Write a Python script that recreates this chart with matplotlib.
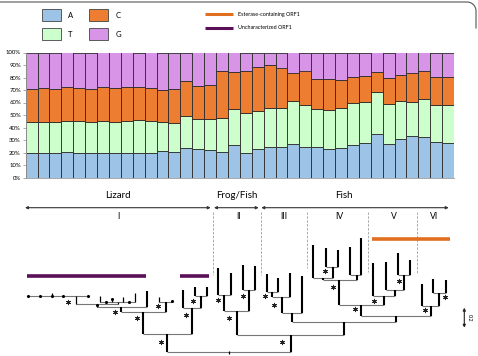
import numpy as np
import matplotlib
matplotlib.use("Agg")
import matplotlib.pyplot as plt
from matplotlib.patches import Rectangle

plt.rcParams['font.family'] = ['Lato', 'DejaVu Sans']

# base composition per sequence (%)
a_pct = [20.0, 19.5, 19.5, 20.3, 20.0, 19.8, 19.8, 19.3, 19.8, 20.0, 19.8, 21.4,
         20.3, 23.5, 22.7, 21.9, 20.3, 26.2, 19.8, 22.7, 24.6, 24.6, 26.5, 24.1,
         24.6, 22.7, 23.3, 25.7, 27.3, 34.5, 26.5, 31.0, 32.9, 32.6, 28.1, 27.3]
t_pct = [24.7, 25.2, 24.9, 24.9, 24.9, 24.6, 25.1, 25.1, 25.1, 26.0, 25.1, 23.3,
         23.3, 25.4, 24.4, 24.6, 27.0, 28.6, 31.5, 30.2, 31.3, 31.3, 34.5, 33.7,
         30.2, 31.0, 32.0, 33.9, 33.1, 33.7, 32.3, 30.5, 27.5, 30.0, 29.7, 30.5]
c_pct = [26.4, 27.0, 26.7, 27.0, 27.0, 26.2, 27.3, 27.0, 27.3, 26.5, 26.5, 25.4,
         27.0, 28.4, 26.2, 27.6, 38.0, 29.7, 33.7, 35.3, 33.9, 32.1, 23.0, 27.8,
         23.8, 24.9, 22.8, 20.6, 20.9, 16.0, 20.6, 20.6, 23.6, 22.4, 22.9, 22.9]
g_pct = [28.9, 28.3, 28.9, 27.8, 28.1, 29.4, 27.8, 28.6, 27.8, 27.5, 28.6, 29.9,
         29.4, 22.7, 26.7, 25.9, 14.7, 15.5, 15.0, 11.8, 10.2, 12.0, 16.0, 14.4,
         21.4, 21.4, 21.9, 19.8, 18.7, 15.8, 20.6, 17.9, 16.0, 15.0, 19.3, 19.3]
bases = ['A', 'T', 'C', 'G']
base_colors = {'A': '#9dc3e6', 'T': '#ccffcc', 'C': '#ed7d31', 'G': '#d894e6'}

clades = ['Lizard', 'Frog/Fish', 'Fish']
groups = ['I', 'II', 'III', 'IV', 'V', 'VI']
orf_labels = ['Esterase-containing ORF1', 'Uncharacterized ORF1']
orf_colors = ['#e0701f', '#5a0f58']

# tree drawn as a cladogram in picture pixels: vertical branches (x, y_low, y_high)
tree_v = [(166.7, 334.3, 352.3), (291, 335, 352.3), (191.7, 308.3, 334.3),
          (182.7, 290, 308.3), (201, 295.7, 308.3), (195, 286.7, 295.7), (206.7, 286.7, 295.7),
          (143.3, 311.7, 334.3), (165.7, 301.7, 311.7), (121, 307, 311.7), (146.7, 291, 307),
          (236.7, 311, 335), (224, 295, 311), (218.3, 268.3, 295), (230.7, 272.7, 295),
          (249.3, 290, 311), (242.7, 265, 290), (255, 266, 290),
          (344.3, 322.3, 335), (292.5, 313.3, 322.3), (302.3, 275.7, 313.3), (281.7, 296.7, 313.3),
          (290, 273.3, 296.7), (272.3, 291.7, 296.7), (266.7, 274.3, 291.7), (278.3, 277.7, 291.7),
          (396.3, 316, 322.3), (361.5, 305, 316), (339.5, 280, 305), (323.3, 278.3, 280),
          (313.3, 245, 278.3), (332.7, 267.3, 278.3), (326, 248.3, 267.3), (338.3, 250, 267.3),
          (356.7, 275, 280), (350, 246.7, 275), (361.5, 238.3, 275),
          (384.5, 296, 305), (372.7, 262.7, 296), (395, 290, 296), (386, 261.7, 290),
          (404, 275, 290), (397.7, 253.3, 275), (410, 260, 275),
          (431, 306, 316), (421.7, 284, 306), (439.3, 293.3, 306), (433.3, 279, 293.3),
          (446, 280, 293.3)]
# short lizard branches
tree_v_thin = [(159.3, 296.7, 301.7), (171.7, 300.5, 301.7), (97, 304, 307), (118, 301.7, 304),
               (100, 296, 301.7), (123.3, 296.7, 301.7), (135, 293.3, 301.7), (111.7, 299.3, 301.7),
               (76, 295.5, 304), (52.3, 293, 295.5), (229, 351, 354)]
# horizontal connectors (y, x_left, x_right)
tree_h = [(352.3, 166.7, 291), (334.3, 143.3, 191.7), (308.3, 182.7, 201), (295.7, 195, 206.7),
          (311.7, 121, 165.7), (301.7, 159.3, 171.7), (307, 97, 146.7), (304, 76, 118),
          (301.7, 100, 135), (295.5, 28.3, 88.3),
          (335, 236.7, 344.3), (311, 224, 249.3), (295, 218.3, 230.7), (290, 242.7, 255),
          (322.3, 292.5, 396.3), (313.3, 281.7, 302.3), (296.7, 272.3, 290), (291.7, 266.7, 278.3),
          (316, 361.5, 431), (305, 339.5, 384.5), (280, 323.3, 356.7), (278.3, 313.3, 332.7),
          (267.3, 326, 338.3), (275, 350, 361.5), (296, 372.7, 395), (290, 386, 404),
          (275, 397.7, 410), (306, 421.7, 439.3), (293.3, 433.3, 446)]
tip_dots = [(28.3, 295.5), (40, 295.5), (51.7, 295.5), (63.3, 295.5), (88.3, 295.5),
            (97, 305), (106, 301.7), (111.7, 299.3), (129, 301.7), (171.7, 300.5)]
stars = [(161.3, 341.7), (185.7, 314.7), (193, 300.7), (136.7, 317.7), (158, 305.7),
         (115, 311.7), (68.3, 301.7), (282.3, 342.3), (229, 317.7), (217.7, 300.3),
         (242.7, 295.7), (274, 305.3), (264.7, 296), (354.7, 309.3), (332.7, 286.7),
         (325.3, 270.7), (374.3, 300.7), (399, 280.7), (425.3, 310), (445, 297.3)]

W, H = 478, 356
fig = plt.figure(figsize=(W / 100, H / 100), dpi=100)
over = fig.add_axes([0, 0, 1, 1])
over.set_xlim(0, W)
over.set_ylim(H, 0)
over.axis('off')

# frame: top edge with rounded corner at the right
th = np.linspace(np.pi / 2, 0, 20)
fx = np.concatenate([[0], 467 + 9 * np.cos(th), [476]])
fy = np.concatenate([[2], 11 - 9 * np.sin(th), [28]])
over.plot(fx, fy, color='#555555', lw=0.8)

# stacked bars
ax = fig.add_axes([25.7 / W, 1 - 177.5 / H, 428.3 / W, 125 / H])
x = np.arange(len(a_pct))
bottom = np.zeros(len(x))
for b, vals in zip(bases, [a_pct, t_pct, c_pct, g_pct]):
    v = np.array(vals)
    ax.bar(x, v / 100, width=1.0, bottom=bottom, color=base_colors[b],
           edgecolor='#2a2a2a', lw=0.6)
    bottom += v / 100
ax.set_xlim(-0.5, len(x) - 0.5)
ax.set_ylim(0, 1)
ax.set_yticks(np.arange(0, 1.01, 0.1))
ax.set_yticklabels(['%d%%' % (i * 10) for i in range(11)], fontsize=4.3)
ax.set_xticks([])
ax.tick_params(axis='y', length=2, width=0.5, pad=1.5, color='#888888')
for s in ['top', 'right']:
    ax.spines[s].set_visible(False)
for s in ['left', 'bottom']:
    ax.spines[s].set_color('#999999')
    ax.spines[s].set_linewidth(0.6)

# legend
for i, b in enumerate(bases):
    col, row = i // 2, i % 2
    bx, by = 41.7 + 47.6 * col, 9 + 19.3 * row
    over.add_patch(Rectangle((bx, by), 19, 12, fc=base_colors[b], ec='#444444', lw=0.6))
    over.text(bx + 26, by + 6, b, fontsize=5.5, va='center', ha='left')
for i, (lab, c) in enumerate(zip(orf_labels, orf_colors)):
    yy = 14.3 + 13.4 * i
    over.plot([205, 233.3], [yy, yy], color=c, lw=2.2, solid_capstyle='butt')
    over.text(238.3, yy, lab, fontsize=3.9, va='center', ha='left')

# clade headers
hdr_x = [118, 237, 344]
arrows = [(25, 210.7), (214, 258.7), (261.3, 448.7)]
for lab, hx, (x0, x1) in zip(clades, hdr_x, arrows):
    over.text(hx, 195, lab, fontsize=7, ha='center', va='center')
    over.annotate('', xy=(x1, 207.7), xytext=(x0, 207.7),
                  arrowprops=dict(arrowstyle='<|-|>', color='#333333', lw=0.8,
                                  mutation_scale=4, shrinkA=0, shrinkB=0))
grp_x = [118, 239, 284, 339, 393.5, 433.7]
for lab, gx in zip(groups, grp_x):
    over.text(gx, 216.5, lab, fontsize=6.2, ha='center', va='center')
for dx, dy in [(213.3, 275), (261.3, 275), (307, 268.3), (368, 271.7), (417.3, 274)]:
    over.plot([dx, dx], [211.7, dy], color='#aaaaaa', lw=0.7, ls=(0, (2.5, 1.5)))

# ORF bars
over.plot([26.7, 146], [275.7, 275.7], color=orf_colors[1], lw=2.6, solid_capstyle='butt')
over.plot([180, 209], [275.7, 275.7], color=orf_colors[1], lw=2.6, solid_capstyle='butt')
over.plot([371.7, 450], [239, 239], color=orf_colors[0], lw=2.6, solid_capstyle='butt')

# tree
for yy, x0, x1 in tree_h:
    over.plot([x0, x1], [yy, yy], color='#777777', lw=0.8, solid_capstyle='butt')
for xx, y0, y1 in tree_v:
    over.plot([xx, xx], [y0, y1], color='black', lw=1.5, solid_capstyle='butt')
for xx, y0, y1 in tree_v_thin:
    over.plot([xx, xx], [y0, y1], color='black', lw=0.9, solid_capstyle='butt')
over.scatter([p[0] for p in tip_dots], [p[1] for p in tip_dots], s=1.5, color='black', zorder=3)
over.scatter([p[0] for p in stars], [p[1] for p in stars], s=10, marker=(6, 2, 0),
             color='#222222', lw=0.7, zorder=3)

# scale bar
over.annotate('', xy=(464.3, 307.7), xytext=(464.3, 327.7),
              arrowprops=dict(arrowstyle='<|-|>', color='#222222', lw=0.8,
                              mutation_scale=4, shrinkA=0, shrinkB=0))
over.text(469, 317.7, '0.2', fontsize=4, rotation=270, ha='center', va='center')

fig.savefig('out.png', dpi=100)
